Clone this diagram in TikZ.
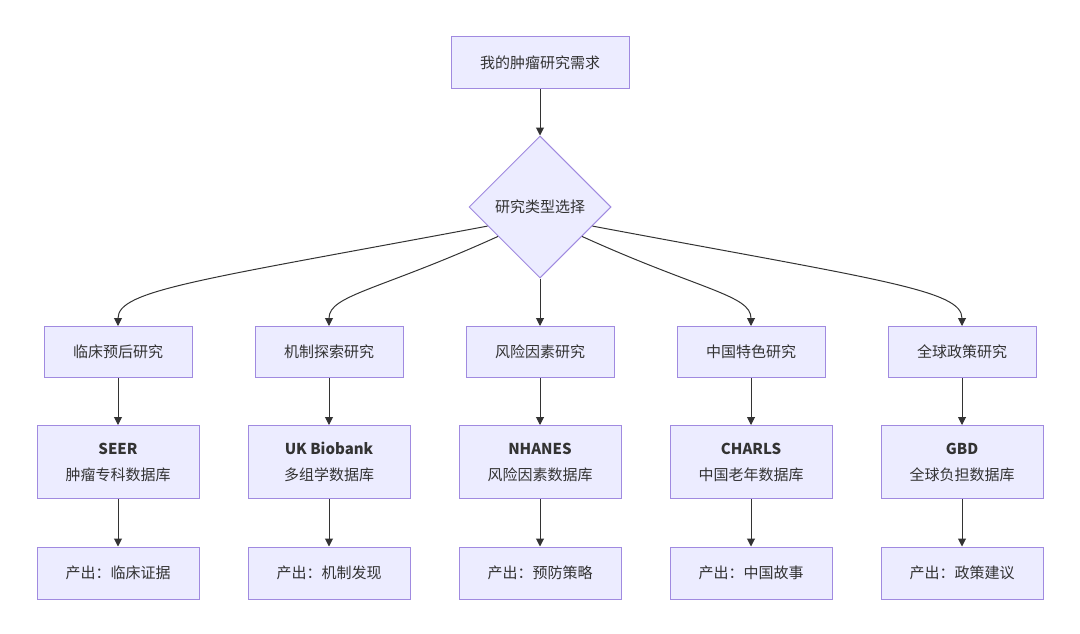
\documentclass[tikz,border=0pt]{standalone}
\usepackage{fontspec}
\setmainfont{Noto Sans CJK SC}
\usetikzlibrary{shapes.geometric,arrows.meta}
\definecolor{boxfill}{HTML}{ECECFF}
\definecolor{boxline}{HTML}{A08AE0}
\definecolor{edgeline}{HTML}{333333}
\tikzset{every picture/.style={line width=0.75pt}}

\begin{document}
\begin{tikzpicture}[x=1pt,y=1pt,yscale=-1,xscale=1,
  box/.style={draw=boxline,fill=boxfill,line width=1pt,inner sep=0,align=center,
    text=edgeline,font=\fontsize{15}{26}\selectfont},
  small/.style={box,minimum width=148,minimum height=51},
  dbase/.style={box,minimum width=162,minimum height=73},
  outp/.style={box,minimum width=162,minimum height=52},
  flow/.style={draw=edgeline,line width=1pt,-{Triangle[length=8pt,width=8pt]}}]
\useasboundingbox (0,0) rectangle (1080,634);

% Top
\node [box,minimum width=178,minimum height=52] (need) at (540,63) {我的肿瘤研究需求};
\node [box,shape=diamond,minimum width=142,minimum height=142] (choice) at (540,207) {研究类型选择};

% Research types
\node [small] (type1) at (118,352) {临床预后研究};
\node [small] (type2) at (329,352) {机制探索研究};
\node [small] (type3) at (540,352) {风险因素研究};
\node [small] (type4) at (751,352) {中国特色研究};
\node [small] (type5) at (962,352) {全球政策研究};

% Databases
\node [dbase] (db1) at (118,462) {\textbf{SEER}\\肿瘤专科数据库};
\node [dbase] (db2) at (329,462) {\textbf{UK Biobank}\\多组学数据库};
\node [dbase] (db3) at (540,462) {\textbf{NHANES}\\风险因素数据库};
\node [dbase] (db4) at (751,462) {\textbf{CHARLS}\\中国老年数据库};
\node [dbase] (db5) at (962,462) {\textbf{GBD}\\全球负担数据库};

% Outputs
\node [outp] (out1) at (118,573) {产出：临床证据};
\node [outp] (out2) at (329,573) {产出：机制发现};
\node [outp] (out3) at (540,573) {产出：预防策略};
\node [outp] (out4) at (751,573) {产出：中国故事};
\node [outp] (out5) at (962,573) {产出：政策建议};

%Straight Lines
\draw [flow] (need) -- (choice);
\draw [flow] (choice.south) -- (type3);
%Curve Lines
\draw [flow] (choice.200) .. controls (200,280) and (118,290) .. (type1.north);
\draw [flow] (choice.215) .. controls (380,290) and (329,295) .. (type2.north);
\draw [flow] (choice.325) .. controls (700,290) and (751,295) .. (type4.north);
\draw [flow] (choice.340) .. controls (880,280) and (962,290) .. (type5.north);

%Straight Lines
\draw [flow] (type1) -- (db1);
\draw [flow] (type2) -- (db2);
\draw [flow] (type3) -- (db3);
\draw [flow] (type4) -- (db4);
\draw [flow] (type5) -- (db5);
\draw [flow] (db1) -- (out1);
\draw [flow] (db2) -- (out2);
\draw [flow] (db3) -- (out3);
\draw [flow] (db4) -- (out4);
\draw [flow] (db5) -- (out5);

\end{tikzpicture}
\end{document}
